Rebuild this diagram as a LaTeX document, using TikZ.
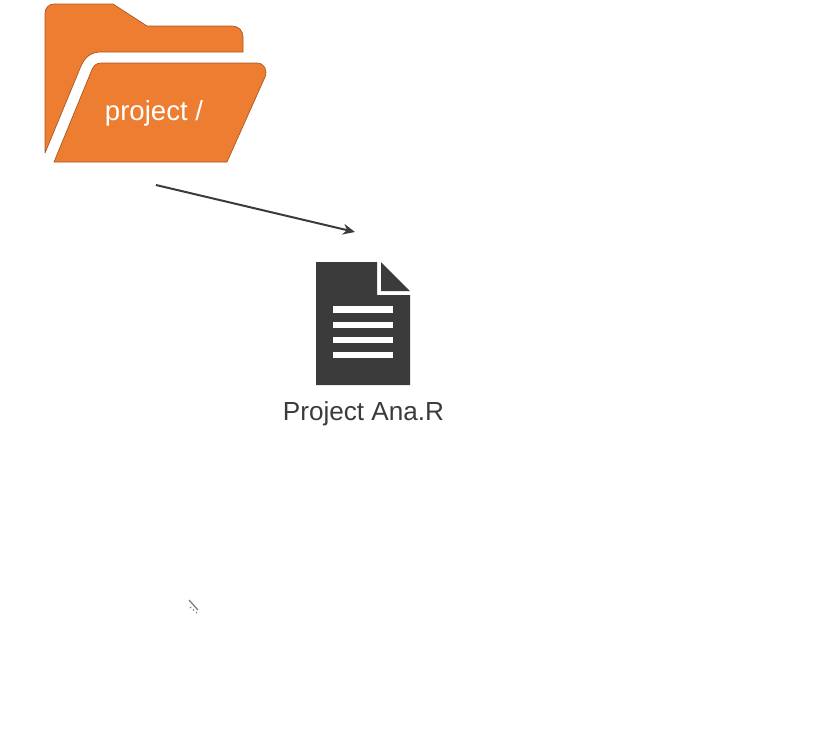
\documentclass[tikz,border=0pt]{standalone}
\usepackage{fontspec}
\setmainfont{Liberation Sans}
\usetikzlibrary{arrows.meta}
\definecolor{folderorange}{HTML}{ED7D31}
\definecolor{folderedge}{HTML}{A85520}
\definecolor{docdark}{HTML}{3B3B3B}
\tikzset{
  folderpart/.style={fill=folderorange,draw=folderedge,line width=0.5pt,line join=round},
  docpart/.style={fill=docdark,draw=none},
  docline/.style={fill=white,draw=none},
  connector/.style={draw=docdark,line width=1.5pt,-{Stealth[length=9pt,width=8pt]}},
  label/.style={inner sep=0pt,anchor=center},
}
\begin{document}
\begin{tikzpicture}[x=0.75pt,y=-0.75pt]
\useasboundingbox (0,0) rectangle (832,751);
% folder back
\path[folderpart] (45,153) -- (45,13) .. controls (45,8) and (49,4) .. (54,4)
  -- (113,4) -- (147,26) -- (232,26) .. controls (239,26) and (243,31) .. (243,37)
  -- (243,52) -- (101,52) .. controls (91,52) and (85,57) .. (81,66) -- cycle;
% folder front
\path[folderpart] (54,162) -- (91,72) .. controls (93,66) and (96,63) .. (101,63)
  -- (257,63) .. controls (264,63) and (268,70) .. (265,77) -- (227,162) -- cycle;
\node[label,text=white,font=\fontsize{20.7}{24}\selectfont] (folderlabel) at (154,113) {project /};
% connector
\coordinate (arrowstart) at (156,185);
\coordinate (arrowend) at (355,232);
\draw[connector] (arrowstart) -- (arrowend);
% document
\path[docpart] (316,262) -- (377,262) -- (377,295) -- (410,295) -- (410,385) -- (316,385) -- cycle;
\path[docpart] (381,262) -- (410,291) -- (381,291) -- cycle;
\path[docline] (333,306) rectangle (393,313);
\path[docline] (333,322) rectangle (393,328);
\path[docline] (333,337) rectangle (393,343);
\path[docline] (333,352) rectangle (393,358);
\node[label,text=docdark,font=\fontsize{19.6}{24}\selectfont] (doclabel) at (363.5,414) {Project Ana.R};
% pointer remnant
\draw[gray,line width=1pt] (189,600) -- (198,610);
\draw[gray,line width=1pt,dotted] (190,607) -- (197,613);
\end{tikzpicture}
\end{document}
